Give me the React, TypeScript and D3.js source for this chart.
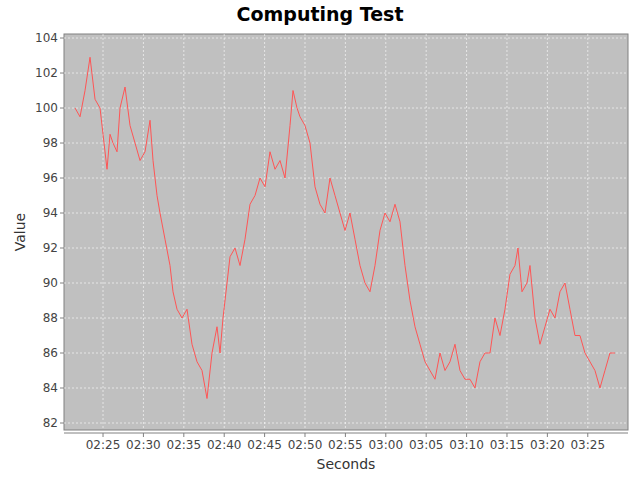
import React from "react";
import * as d3 from "d3";

const px = [75,80,85,90,95,100,103,107,110,113,117,120,125,130,135,140,145,150,153,157,160,165,170,173,177,182,187,192,197,202,207,212,217,220,223,227,230,235,240,245,250,255,260,265,270,275,280,285,290,293,297,300,305,310,315,320,325,330,335,340,345,350,355,360,365,370,375,380,385,390,395,400,405,410,415,420,425,430,435,440,445,450,455,460,465,470,475,480,485,490,495,500,505,510,515,518,522,527,530,535,540,545,550,555,560,565,570,575,580,585,590,595,600,605,610,615];
const values = [100,99.5,101,102.9,100.5,100,98.5,96.5,98.5,98,97.5,100,101.2,99,98,97,97.5,99.3,97,95,94,92.5,91,89.5,88.5,88,88.5,86.5,85.5,85,83.4,86,87.5,86,88,90,91.5,92,91,92.5,94.5,95,96,95.5,97.5,96.5,97,96,99,101,100,99.5,99,98,95.5,94.5,94,96,95,94,93,94,92.5,91,90,89.5,91,93,94,93.5,94.5,93.5,91,89,87.5,86.5,85.5,85,84.5,86,85,85.5,86.5,85,84.5,84.5,84,85.5,86,86,88,87,88.5,90.5,91,92,89.5,90,91,88,86.5,87.5,88.5,88,89.5,90,88.5,87,87,86,85.5,85,84,85,86,86];
// minutes after 02:00
const minutes = px.map((x) => 25 + (x - 103) / 8.08);
const yTicks = d3.range(82, 105, 2);
const xTicks = d3.range(25, 90, 5);

export default function App() {
  const L = 64, R = 628, T = 34, B = 430;
  const x = d3.scaleLinear().domain([20.17, 89.98]).range([L, R]);
  const y = d3.scaleLinear().domain([81.6, 104.23]).range([B, T]);
  const line = d3.line<number>().x((_, i) => x(minutes[i])).y((v) => y(v));
  const fmt = (m: number) => `${String(2 + Math.floor(m / 60)).padStart(2, "0")}:${String(m % 60).padStart(2, "0")}`;
  const font = "DejaVu Sans, sans-serif";
  return (
    <svg width={640} height={480} style={{ position: "absolute", left: 0, top: 0 }} fontFamily={font}>
      <rect width={640} height={480} fill="#fff" />
      <text x={320} y={21} textAnchor="middle" fontSize={19} fontWeight="bold">Computing Test</text>
      <rect x={L} y={T} width={R - L} height={B - T} fill="#c0c0c0" stroke="#808080" />
      {yTicks.map((t) => (
        <g key={t}>
          <line x1={L} x2={R} y1={y(t)} y2={y(t)} stroke="#fff" strokeDasharray="2,2" strokeWidth={0.6} />
          <line x1={L - 4} x2={L} y1={y(t)} y2={y(t)} stroke="#808080" />
          <text x={L - 6} y={y(t) + 4} textAnchor="end" fontSize={12} fill="#444">{t}</text>
        </g>
      ))}
      {xTicks.map((t) => (
        <g key={t}>
          <line x1={x(t)} x2={x(t)} y1={T} y2={B} stroke="#fff" strokeDasharray="2,2" strokeWidth={0.6} />
          <line x1={x(t)} x2={x(t)} y1={B + 3} y2={B + 7} stroke="#808080" />
          <text x={x(t)} y={B + 19} textAnchor="middle" fontSize={12} fill="#444">{fmt(t)}</text>
        </g>
      ))}
      <line x1={L} x2={R} y1={B + 3} y2={B + 3} stroke="#808080" />
      <path d={line(values) ?? ""} fill="none" stroke="#ff5555" strokeWidth={1} />
      <text x={346} y={469} textAnchor="middle" fontSize={14} fill="#333">Seconds</text>
      <text transform={`translate(25,${(T + B) / 2}) rotate(-90)`} textAnchor="middle" fontSize={14} fill="#333">Value</text>
    </svg>
  );
}
